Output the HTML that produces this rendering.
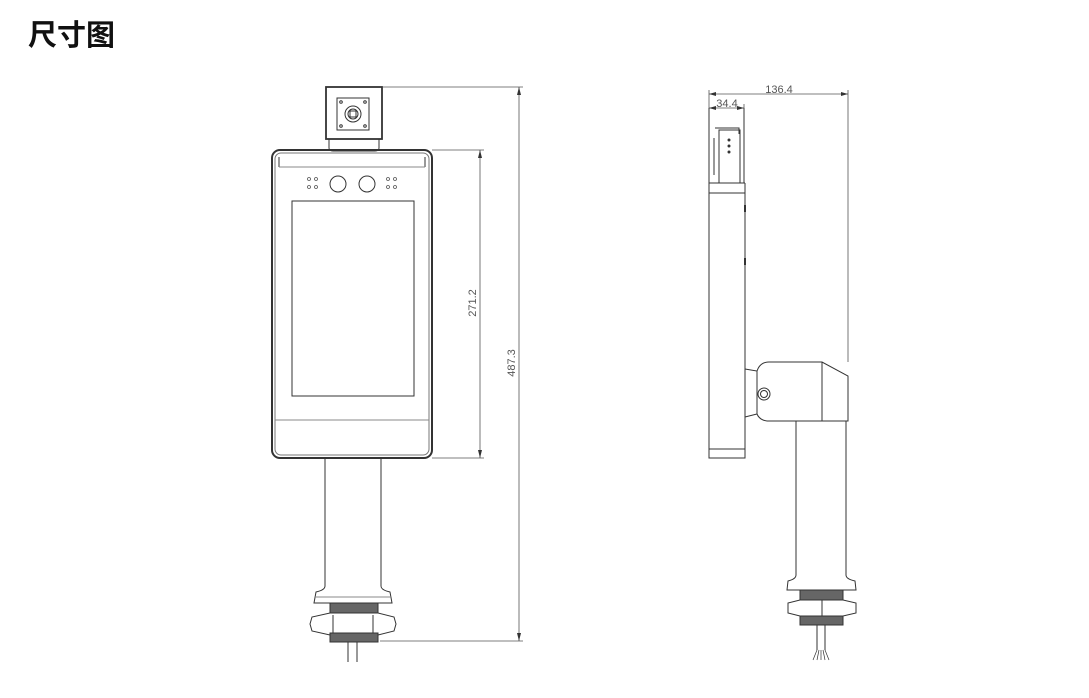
<!DOCTYPE html>
<html><head><meta charset="utf-8"><style>
html,body{margin:0;padding:0;background:#fff;}
svg{display:block}
</style></head><body>
<svg width="1089" height="698" viewBox="0 0 1089 698" xmlns="http://www.w3.org/2000/svg">
<text x="28" y="45" font-family="Liberation Sans, Noto Sans CJK SC, sans-serif" font-size="29" font-weight="bold" fill="#111">尺寸图</text>
<g fill="none" stroke="#333" stroke-width="1">
<!-- FRONT VIEW -->
<rect x="326" y="87" width="56" height="52" stroke-width="1.8"/>
<path d="M329 139 L329 148 Q329 151 333 151 L375 151 Q379 151 379 148 L379 139" />
<rect x="337" y="98" width="32" height="32"/>
<circle cx="353" cy="114" r="8"/><circle cx="353" cy="114" r="5"/><rect x="350" y="111" width="6" height="6"/>
<circle cx="341" cy="102" r="1.3"/><circle cx="365" cy="102" r="1.3"/><circle cx="341" cy="126" r="1.3"/><circle cx="365" cy="126" r="1.3"/>
<rect x="272" y="150" width="160" height="308" rx="8" stroke-width="2"/>
<rect x="275" y="153" width="154" height="302" rx="6" stroke="#777"/>
<line x1="279" y1="157" x2="279" y2="167"/><line x1="425" y1="157" x2="425" y2="167"/>
<line x1="279" y1="167" x2="425" y2="167" stroke="#888"/>
<circle cx="338" cy="184" r="8"/><circle cx="367" cy="184" r="8"/>
<g stroke="#555" stroke-width="0.8">
<circle cx="309" cy="179" r="1.5"/><circle cx="316" cy="179" r="1.5"/><circle cx="309" cy="187" r="1.5"/><circle cx="316" cy="187" r="1.5"/>
<circle cx="388" cy="179" r="1.5"/><circle cx="395" cy="179" r="1.5"/><circle cx="388" cy="187" r="1.5"/><circle cx="395" cy="187" r="1.5"/>
</g>
<rect x="292" y="201" width="122" height="195"/>
<line x1="275" y1="420" x2="429" y2="420" stroke="#888"/>
<!-- pole -->
<line x1="325" y1="458" x2="325" y2="586"/><line x1="381" y1="458" x2="381" y2="586"/>
<path d="M325 586 Q325 590 316 592 L314 603 L392 603 L390 592 Q381 590 381 586"/>
<line x1="315" y1="597" x2="391" y2="597" stroke="#888"/>
<rect x="330" y="603" width="48" height="10" fill="#666" stroke="#333"/>
<path d="M330 613 L378 613 L394 617 L396 624 L394 631 L378 635 L330 635 L312 631 L310 624 L312 617 Z"/>
<line x1="333" y1="615" x2="333" y2="633"/><line x1="373" y1="615" x2="373" y2="633"/>
<rect x="330" y="633" width="48" height="9" fill="#666" stroke="#333"/>
<line x1="348" y1="642" x2="348" y2="662"/><line x1="357" y1="642" x2="357" y2="662"/>
<!-- dims front -->
<g stroke="#555" stroke-width="0.8">
<line x1="432" y1="150" x2="484" y2="150"/><line x1="432" y1="458" x2="484" y2="458"/>
<line x1="480" y1="150" x2="480" y2="458"/>
<line x1="383" y1="87" x2="523" y2="87"/><line x1="380" y1="641" x2="523" y2="641"/>
<line x1="519" y1="87" x2="519" y2="641"/>
</g>
<path d="M480 150 l-2 8 l4 0 z M480 458 l-2 -8 l4 0 z M519 87 l-2 8 l4 0 z M519 641 l-2 -8 l4 0 z" fill="#333" stroke="none"/>
<!-- SIDE VIEW -->
<g stroke="#555" stroke-width="0.8">
<line x1="709" y1="94" x2="848" y2="94"/><line x1="709" y1="108" x2="744" y2="108"/>
<line x1="709" y1="90" x2="709" y2="120"/><line x1="848" y1="90" x2="848" y2="362"/>
<line x1="744" y1="104" x2="744" y2="120"/>
</g>
<path d="M709 94 l7 -2 l0 4 z M848 94 l-7 -2 l0 4 z M709 108 l7 -2 l0 4 z M744 108 l-7 -2 l0 4 z" fill="#333" stroke="none"/>
<path d="M709 108 L709 458 L745 458 L745 183"/>
<line x1="744" y1="108" x2="744" y2="183"/>
<line x1="709" y1="183" x2="745" y2="183"/><line x1="709" y1="193" x2="745" y2="193"/>
<line x1="709" y1="449" x2="745" y2="449"/>
<rect x="719" y="130" width="21" height="53"/>
<path d="M715 128 L739 128 L739 134"/><line x1="714" y1="138" x2="714" y2="175"/>
<line x1="745" y1="205" x2="745" y2="212" stroke-width="2"/><line x1="745" y1="258" x2="745" y2="265" stroke-width="2"/>
<circle cx="729" cy="140" r="1" fill="#333"/><circle cx="729" cy="146" r="1" fill="#333"/><circle cx="729" cy="152" r="1" fill="#333"/>
<path d="M745 369 L757 371 L757 414 L745 417"/>
<path d="M757 371 Q760 362 769 362 L822 362 L848 376 L848 421 L769 421 Q760 421 757 414"/>
<line x1="822" y1="362" x2="822" y2="421"/>
<circle cx="764" cy="394" r="6"/><circle cx="764" cy="394" r="3.5"/>
<line x1="796" y1="421" x2="796" y2="575"/><line x1="846" y1="421" x2="846" y2="575"/>
<path d="M796 575 Q796 579 788 581 L787 590 L856 590 L855 581 Q846 579 846 575"/>
<rect x="800" y="590" width="43" height="10" fill="#666" stroke="#333"/>
<path d="M800 600 L843 600 L856 603 L856 613 L843 616 L800 616 L788 613 L788 603 Z"/>
<line x1="822" y1="600" x2="822" y2="616"/>
<rect x="800" y="616" width="43" height="9" fill="#666" stroke="#333"/>
<line x1="817" y1="625" x2="817" y2="650"/><line x1="825" y1="625" x2="825" y2="650"/>
<path d="M817 650 L813 660 M819 650 L817 660 M821 650 L821 660 M823 650 L825 660 M825 650 L829 660" stroke-width="0.7"/>
</g>
<g font-family="Liberation Sans, sans-serif" font-size="11" fill="#555">
<text transform="translate(480,303) rotate(-90)" text-anchor="middle" dy="-4">271.2</text>
<text transform="translate(519,363) rotate(-90)" text-anchor="middle" dy="-4">487.3</text>
<text x="779" y="93" text-anchor="middle">136.4</text>
<text x="727" y="107" text-anchor="middle">34.4</text>
</g>
</svg>
</body></html>
